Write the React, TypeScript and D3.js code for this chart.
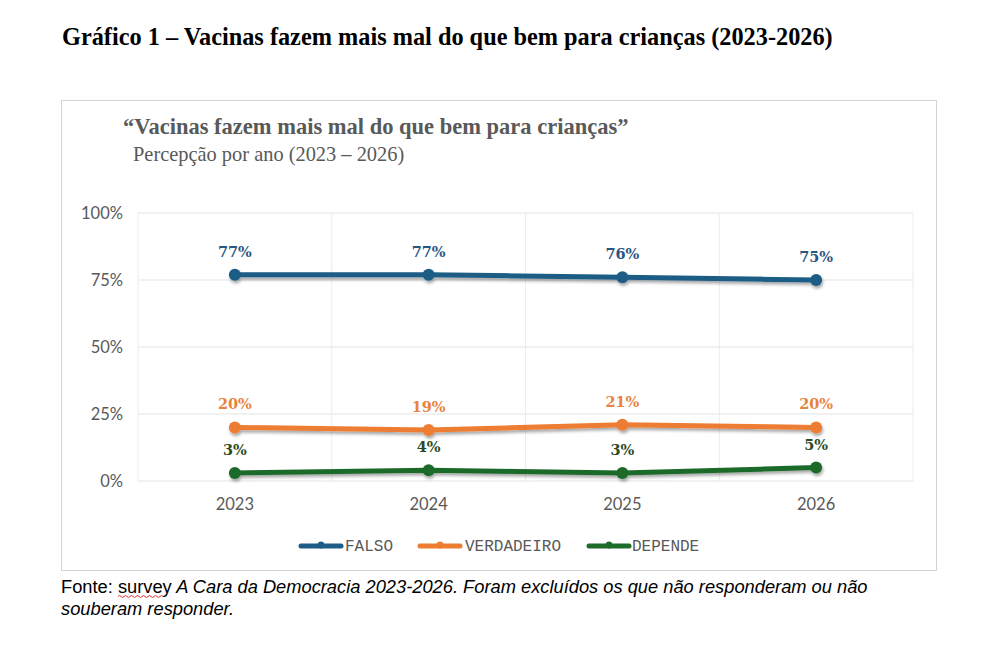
import React from "react";
import * as d3 from "d3";

const years = ["2023", "2024", "2025", "2026"];
const falso = [77, 77, 76, 75];
const verdadeiro = [20, 19, 21, 20];
const depende = [3, 4, 3, 5];
const yTicks = [0, 25, 50, 75, 100];

const seriesNames = ["FALSO", "VERDADEIRO", "DEPENDE"];
const seriesValues = [falso, verdadeiro, depende];
const lineColors = ["#1f5d86", "#ed7d31", "#1f6b2b"];
const labelColors = ["#2a5682", "#e8823f", "#2c4a21"];

const W = 984;
const H = 654;
const plot = { left: 138, right: 913, top: 213, bottom: 481 };

export default function App() {
  const x = d3.scaleBand<string>().domain(years).range([plot.left, plot.right]);
  const y = d3.scaleLinear().domain([0, 100]).range([plot.bottom, plot.top]);
  const cx = (d: string) => (x(d) as number) + x.bandwidth() / 2;
  const line = d3
    .line<number>()
    .x((_, i) => cx(years[i]))
    .y((v) => y(v));

  const legendItems = [
    { lineX: 299, textX: 345 },
    { lineX: 418, textX: 465 },
    { lineX: 587, textX: 632 },
  ];

  const boundaries = years.map((d) => x(d) as number).concat([plot.right]);

  return (
    <svg
      width={W}
      height={H}
      viewBox={`0 0 ${W} ${H}`}
      style={{ position: "absolute", left: 0, top: 0, background: "#fff" }}
    >
      <defs>
        <filter id="sh" x="-10%" y="-50%" width="120%" height="200%">
          <feDropShadow dx="1" dy="2.5" stdDeviation="1.6" floodColor="#000" floodOpacity="0.35" />
        </filter>
      </defs>
      <rect x={0} y={0} width={W} height={H} fill="#fff" />
      <text
        x={62}
        y={45}
        fontFamily="'Liberation Serif', 'Times New Roman', serif"
        fontWeight="bold"
        fontSize={24.3}
        fill="#000"
      >
        Gráfico 1 – Vacinas fazem mais mal do que bem para crianças (2023-2026)
      </text>

      <rect x={61.5} y={100.5} width={875} height={470} fill="#fff" stroke="#d4d4d4" strokeWidth={1} />

      <text
        x={123}
        y={134}
        fontFamily="'Liberation Serif', serif"
        fontWeight="bold"
        fontSize={22.5}
        fill="#595959"
      >
        “Vacinas fazem mais mal do que bem para crianças”
      </text>
      <text x={133} y={161} fontFamily="'Liberation Serif', serif" fontSize={20.4} fill="#595959">
        Percepção por ano (2023 – 2026)
      </text>

      {yTicks.map((t) => (
        <g key={t}>
          <line x1={plot.left} x2={plot.right} y1={y(t)} y2={y(t)} stroke="#e3e3e3" strokeWidth={1} />
          <text
            x={123}
            y={y(t) + 6}
            textAnchor="end"
            fontFamily="Lato, 'Open Sans', sans-serif"
            fontSize={16.5}
            fill="#595959"
          >
            {t}%
          </text>
        </g>
      ))}
      {boundaries.map((b, i) => (
        <line key={i} x1={b} x2={b} y1={plot.top} y2={plot.bottom} stroke="#ececec" strokeWidth={1} />
      ))}
      {years.map((d) => (
        <text
          key={d}
          x={cx(d)}
          y={510}
          textAnchor="middle"
          fontFamily="Lato, 'Open Sans', sans-serif"
          fontSize={16.5}
          fill="#595959"
        >
          {d}
        </text>
      ))}

      {seriesValues.map((vals, si) => (
        <g key={si} filter="url(#sh)">
          <path d={line(vals) || ""} fill="none" stroke={lineColors[si]} strokeWidth={5} strokeLinecap="round" />
          {vals.map((v, i) => (
            <circle key={i} cx={cx(years[i])} cy={y(v)} r={6} fill={lineColors[si]} />
          ))}
        </g>
      ))}
      {seriesValues.map((vals, si) =>
        vals.map((v, i) => (
          <text
            key={`${si}-${i}`}
            x={cx(years[i])}
            y={y(v) - 18}
            textAnchor="middle"
            fontFamily="'DejaVu Serif', 'Liberation Serif', serif"
            fontWeight="bold"
            fontSize={14.5}
            fill={labelColors[si]}
          >
            {v}%
          </text>
        ))
      )}

      {seriesNames.map((name, si) => (
        <g key={name}>
          <line
            x1={legendItems[si].lineX + 2}
            x2={legendItems[si].lineX + 42}
            y1={546}
            y2={546}
            stroke={lineColors[si]}
            strokeWidth={5}
            strokeLinecap="round"
          />
          <circle cx={legendItems[si].lineX + 22} cy={545} r={3.5} fill={lineColors[si]} />
          <text
            x={legendItems[si].textX}
            y={551}
            fontFamily="'Liberation Mono', monospace"
            fontSize={16}
            fill="#595959"
          >
            {name}
          </text>
        </g>
      ))}

      <text x={61} y={593} fontFamily="'Liberation Sans', Arial, sans-serif" fontSize={18.3} fill="#000">
        <tspan>Fonte: </tspan>
        <tspan>survey</tspan>
        <tspan fontStyle="italic"> A Cara da Democracia 2023-2026. Foram excluídos os que não responderam ou não</tspan>
      </text>
      <path
        d="M118 596.5 q1.5 -2 3 0 t3 0 t3 0 t3 0 t3 0 t3 0 t3 0 t3 0 t3 0 t3 0 t3 0 t3 0 t3 0 t3 0 t3 0"
        fill="none"
        stroke="#e03030"
        strokeWidth={1}
      />
      <text x={61} y={615} fontFamily="'Liberation Sans', Arial, sans-serif" fontSize={18.3} fontStyle="italic" fill="#000">
        souberam responder.
      </text>
    </svg>
  );
}
